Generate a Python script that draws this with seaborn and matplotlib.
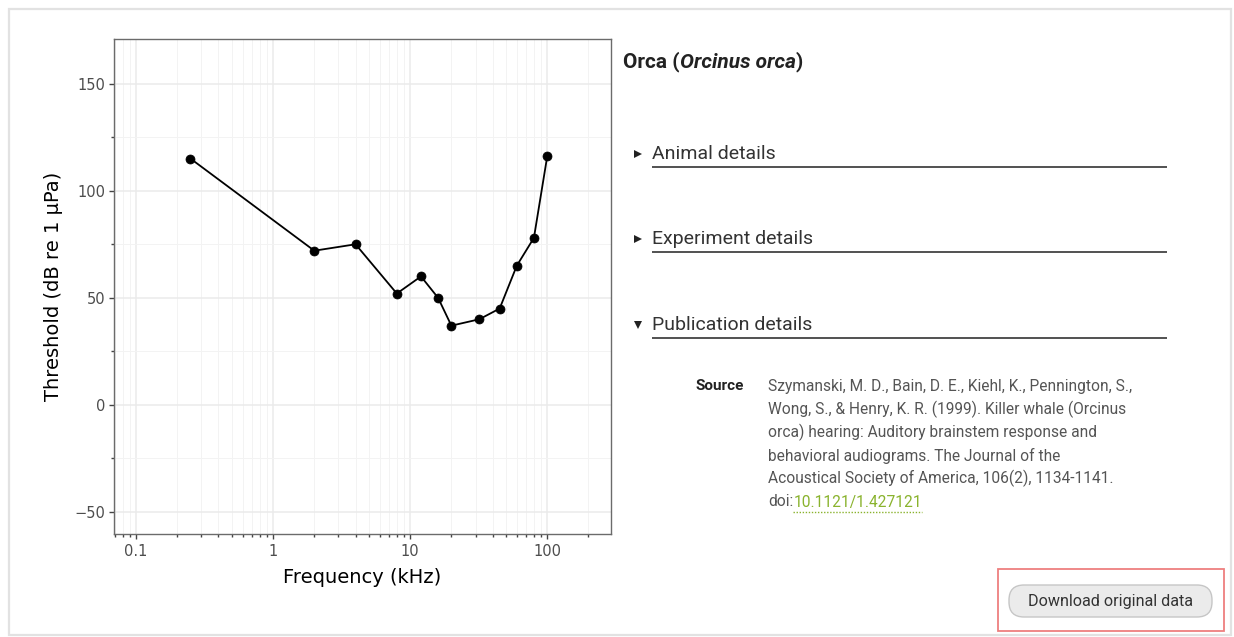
import numpy as np
import pandas as pd
import matplotlib
matplotlib.use("Agg")
import matplotlib.pyplot as plt
import seaborn as sns
from matplotlib.patches import Rectangle, FancyBboxPatch
from matplotlib.ticker import FixedLocator, NullFormatter

# Audiogram data: hearing threshold of the orca by test frequency
frequency_khz = [0.25, 2, 4, 8, 12, 16, 20, 32, 45, 60, 80, 100]
threshold_db = [115, 72, 75, 52, 60, 50, 37, 40, 45, 65, 78, 116]

x_major = [0.1, 1, 10, 100]
x_major_labels = ["0.1", "1", "10", "100"]
y_major = [-50, 0, 50, 100, 150]
y_major_labels = ["\u221250", "0", "50", "100", "150"]
y_minor = [-25, 25, 75, 125]

title_parts = [("Orca (", "normal"), ("Orcinus orca", "italic"), (")", "normal")]
sections = ["Animal details", "Experiment details", "Publication details"]
section_open = [False, False, True]
citation_lines = [
    "Szymanski, M. D., Bain, D. E., Kiehl, K., Pennington, S.,",
    "Wong, S., & Henry, K. R. (1999). Killer whale (Orcinus",
    "orca) hearing: Auditory brainstem response and",
    "behavioral audiograms. The Journal of the",
    "Acoustical Society of America, 106(2), 1134-1141.",
]
doi_prefix = "doi:"
doi_text = "10.1121/1.427121"
button_text = "Download original data"

sns.set_theme(style="white")
plt.rcParams["font.family"] = ["DejaVu Sans"]

W, H = 1234, 637
fig = plt.figure(figsize=(W / 100, H / 100), dpi=100)
fig.patch.set_facecolor("white")

# page layer in pixel coordinates
page = fig.add_axes([0, 0, 1, 1], zorder=0)
page.set_xlim(0, W)
page.set_ylim(H, 0)
page.axis("off")
page.add_patch(Rectangle((9, 9), 1222, 626, fill=False, edgecolor="#e2e2e2", lw=1.6))

# ---- chart ----
left, right, top, bottom = 113.5, 611, 39.3, 534.3
ax = fig.add_axes([left / W, (H - bottom) / H, (right - left) / W, (bottom - top) / H], zorder=2)
ax.set_facecolor("white")
df = pd.DataFrame({"freq": frequency_khz, "thr": threshold_db})
sns.lineplot(data=df, x="freq", y="thr", ax=ax, color="black", linewidth=1.3,
             marker="o", markersize=6.5, markeredgecolor="black", markeredgewidth=0.5,
             estimator=None, sort=False, zorder=5)
ax.set_xscale("log")
ax.set_xlim(0.0686, 292)
ax.set_ylim(-60.4, 170.7)

minor_x = [m * 10.0 ** e for e in range(-2, 3) for m in range(2, 10)]
minor_x = [v for v in minor_x if 0.0686 < v < 292]
ax.xaxis.set_major_locator(FixedLocator(x_major))
ax.set_xticklabels(x_major_labels)
ax.xaxis.set_minor_locator(FixedLocator(minor_x))
ax.xaxis.set_minor_formatter(NullFormatter())
ax.yaxis.set_major_locator(FixedLocator(y_major))
ax.set_yticklabels(y_major_labels)
ax.yaxis.set_minor_locator(FixedLocator(y_minor))
ax.yaxis.set_minor_formatter(NullFormatter())

ax.grid(True, which="major", color="#ebebeb", lw=1.1)
ax.grid(True, which="minor", color="#f3f3f3", lw=0.7)
ax.set_axisbelow(True)
for s in ax.spines.values():
    s.set_color("#6b6b6b")
    s.set_linewidth(1.0)
ax.tick_params(which="major", direction="out", length=3.5, width=1.0, color="#444444",
               labelsize=10.5, labelcolor="#4d4d4d", bottom=True, left=True)
ax.tick_params(axis="x", which="major", pad=3.5)
ax.tick_params(axis="y", which="major", pad=2.5)
ax.tick_params(which="minor", direction="out", length=2.0, width=1.0, color="#444444",
               bottom=True, left=True)
ax.set_xlabel("Frequency (kHz)", fontsize=14, color="black", labelpad=6.5)
ax.set_ylabel("Threshold (dB re 1 \u03bcPa)", fontsize=14, color="black", labelpad=8)

# ---- side panel ----
rob = "Roboto"
fig.canvas.draw()
renderer = fig.canvas.get_renderer()

def text_width(t):
    return t.get_window_extent(renderer=renderer).width

x = 623
for txt, style in title_parts:
    t = page.text(x, 62, txt, fontsize=15, fontweight="bold", fontstyle=style,
                  family=rob, color="#222222", ha="left", va="center")
    x += text_width(t)

section_y = [154, 239, 325]
for name, is_open, y in zip(sections, section_open, section_y):
    marker = "v" if is_open else ">"
    page.plot([637.5], [y], marker=marker, color="#222222", markersize=6, markeredgewidth=0)
    page.text(652, y, name, fontsize=14, family=rob, color="#333333", ha="left", va="center")
    page.plot([652, 1167], [y + 13, y + 13], color="#333333", lw=1.2, solid_capstyle="butt")

page.text(744, 386, "Source", fontsize=11, fontweight="bold", family=rob,
          color="#222222", ha="right", va="center")
line_y = [386 + 23.2 * i for i in range(len(citation_lines) + 1)]
for line, y in zip(citation_lines, line_y):
    page.text(768, y, line, fontsize=11.2, family=rob, color="#555555", ha="left", va="center")
t = page.text(768, line_y[-1], doi_prefix, fontsize=11.2, family=rob, color="#555555",
              ha="left", va="center")
x0 = 768 + text_width(t)
t2 = page.text(x0, line_y[-1], doi_text, fontsize=11.2, family=rob, color="#8ab32e",
               ha="left", va="center")
x1 = x0 + text_width(t2)
page.plot([x0, x1], [line_y[-1] + 9.5, line_y[-1] + 9.5], color="#8ab32e", lw=1.0,
          linestyle=(0, (1, 1.2)))

# download button with highlight frame
btn = FancyBboxPatch((1009, 585), 203, 32, boxstyle="round,pad=0,rounding_size=15",
                     facecolor="#ebebeb", edgecolor="#c6c6c6", lw=1.0)
page.add_patch(btn)
page.text(1111, 601.5, button_text, fontsize=11.6, family=rob, color="#333333",
          ha="center", va="center")
page.add_patch(Rectangle((998, 569), 226, 62, fill=False, edgecolor="#ee7f7f", lw=1.3))

fig.savefig("out.png", dpi=100, facecolor="white")
